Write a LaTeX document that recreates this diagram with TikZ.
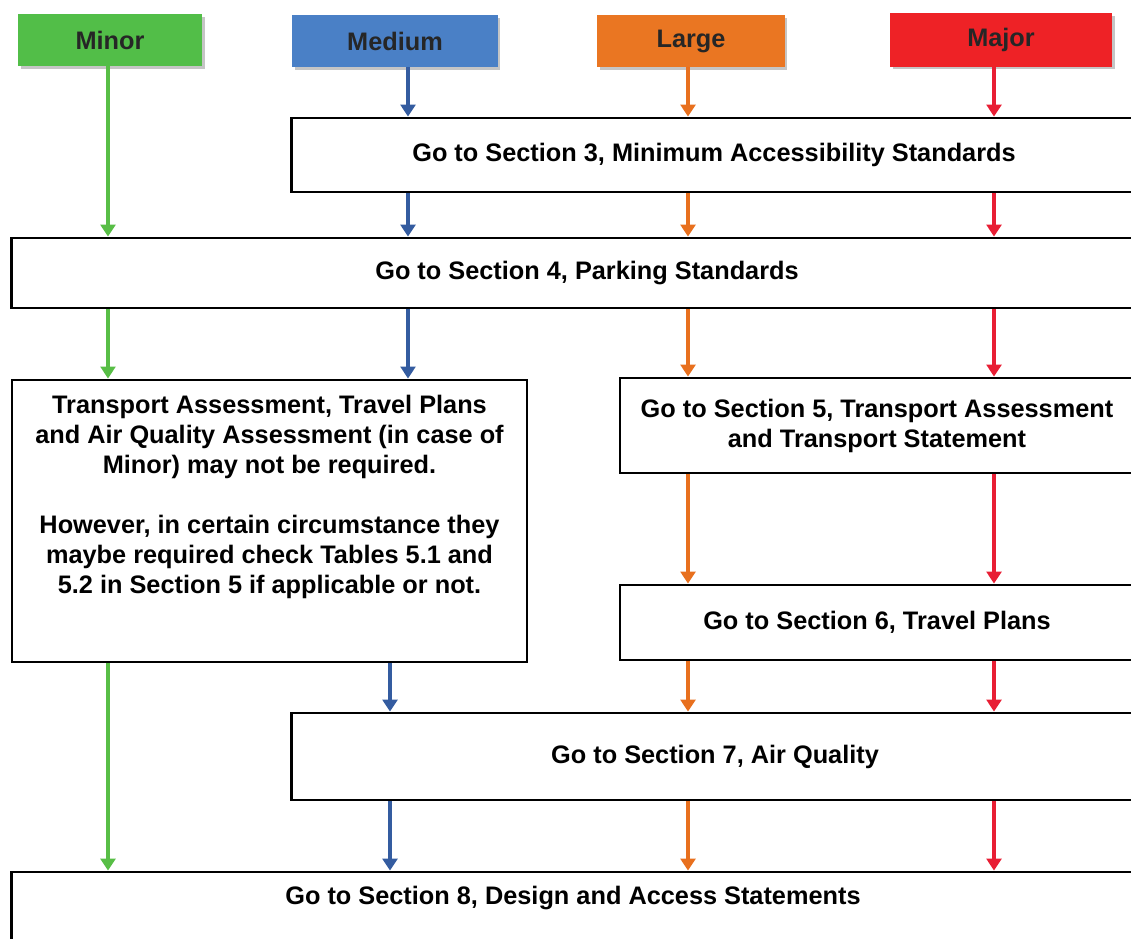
\documentclass[tikz,border=0pt]{standalone}
\usepackage{fontspec}
\setmainfont{Liberation Sans}
\usetikzlibrary{arrows.meta,shadows}
\definecolor{minorgreen}{RGB}{82,190,72}
\definecolor{mediumblue}{RGB}{74,128,198}
\definecolor{largeorange}{RGB}{234,118,34}
\definecolor{majorred}{RGB}{238,34,38}
\definecolor{minorline}{RGB}{88,190,70}
\definecolor{mediumline}{RGB}{52,92,160}
\definecolor{largeline}{RGB}{232,112,30}
\definecolor{majorline}{RGB}{232,30,52}

\begin{document}
\begin{tikzpicture}[x=0.025cm,y=-0.025cm,
    txt/.style={font=\bfseries\fontsize{18}{21.3}\selectfont},
    hdr/.style={txt, rectangle, minimum height=1.3cm, inner sep=0pt, text=black!85,
      drop shadow={shadow xshift=2pt, shadow yshift=-2pt, fill=black!45}},
    stepbox/.style={txt, rectangle, draw=black, line width=2pt, fill=white, inner sep=0pt, align=center},
    flow/.style={line width=3.2pt, -{Triangle[length=8.5pt,width=10.5pt]}},
    minorflow/.style={flow, color=minorline},
    mediumflow/.style={flow, color=mediumline},
    largeflow/.style={flow, color=largeline},
    majorflow/.style={flow, color=majorline}]

  \useasboundingbox (0,0) rectangle (1131,939);
  \clip (0,0) rectangle (1131,939);

  \node[hdr, fill=minorgreen, minimum width=4.6cm] (minor) at (110,40) {Minor};
  \node[hdr, fill=mediumblue, minimum width=5.125cm] (medium) at (395,41) {Medium};
  \node[hdr, fill=largeorange, minimum width=4.675cm] (large) at (691,41) {Large};
  \node[hdr, fill=majorred, minimum width=5.55cm, minimum height=1.325cm] (major) at (1001,40) {Major};

  \node[stepbox, minimum width=21.1cm, minimum height=1.85cm] (sec3) at (714,155) {Go to Section 3, Minimum Accessibility Standards};
  \node[stepbox, minimum width=28.75cm, minimum height=1.75cm] (sec4) at (587,273) {Go to Section 4, Parking Standards};
  \node[stepbox] (notes) at (269.5,521) {%
    \begin{minipage}[c][7.05cm][t]{12.875cm}\centering
      \vspace*{11pt}%
      Transport Assessment, Travel Plans\\
      and Air Quality Assessment (in case of\\
      Minor) may not be required.\\[21.3pt]
      However, in certain circumstance they\\
      maybe required check Tables 5.1 and\\
      5.2 in Section 5 if applicable or not.
    \end{minipage}};
  \node[stepbox, minimum width=12.85cm, minimum height=2.375cm] (sec5) at (877,425.5) {Go to Section 5, Transport Assessment\\and Transport Statement};
  \node[stepbox, minimum width=12.85cm, minimum height=1.875cm] (sec6) at (877,622.5) {Go to Section 6, Travel Plans};
  \node[stepbox, minimum width=21.15cm, minimum height=2.175cm] (sec7) at (715,756.5) {Go to Section 7, Air Quality};
  \node[stepbox, minimum width=28.05cm, text height=0.8cm, text depth=1.5cm, anchor=base] (sec8) at (573,904) {Go to Section 8, Design and Access Statements};

  \coordinate (laneA) at (108,0);
  \coordinate (laneB) at (408,0);
  \coordinate (laneBb) at (390,0);
  \coordinate (laneC) at (688,0);
  \coordinate (laneD) at (994,0);

  \path[minorflow] (minor.south -| laneA) edge (laneA |- sec4.north)
    (sec4.south -| laneA) edge (laneA |- notes.north)
    (notes.south -| laneA) edge (laneA |- sec8.north);
  \path[mediumflow] (medium.south -| laneB) edge (laneB |- sec3.north)
    (sec3.south -| laneB) edge (laneB |- sec4.north)
    (sec4.south -| laneB) edge (laneB |- notes.north)
    (notes.south -| laneBb) edge (laneBb |- sec7.north)
    (sec7.south -| laneBb) edge (laneBb |- sec8.north);
  \foreach \lane/\hd/\sty in {laneC/large/largeflow, laneD/major/majorflow}
    \foreach \a/\b in {\hd/sec3, sec3/sec4, sec4/sec5, sec5/sec6, sec6/sec7, sec7/sec8}
      \path[\sty] (\a.south -| \lane) edge (\lane |- \b.north);

\end{tikzpicture}
\end{document}
